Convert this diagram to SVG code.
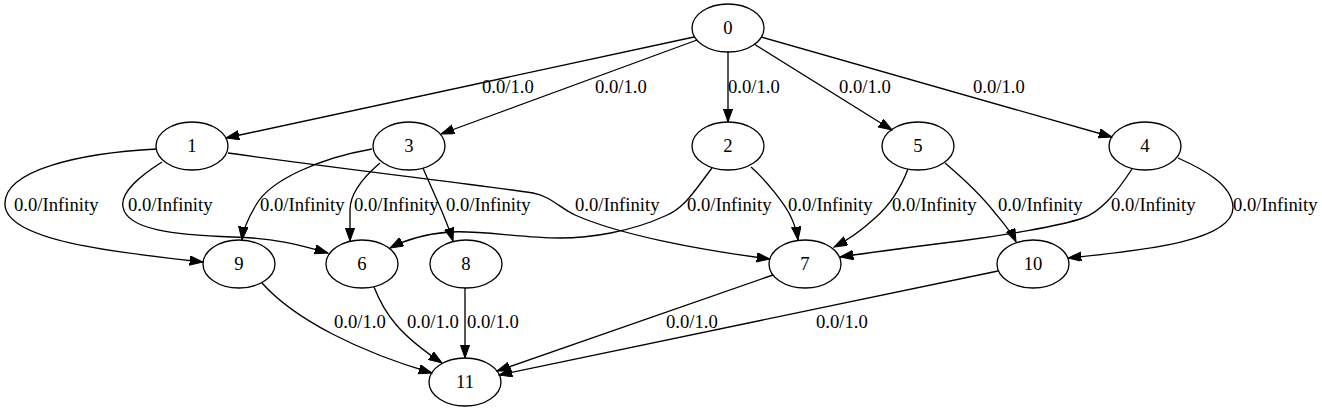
<svg xmlns="http://www.w3.org/2000/svg" width="1322" height="411" viewBox="0 0 1322 411">
<defs>
<style>
.n ellipse{fill:none;stroke:#000;stroke-width:1.33}
text{font-family:"Liberation Serif","Times New Roman",serif;font-size:18.67px;fill:#000}
.n text{text-anchor:middle}
.e path{fill:none;stroke:#000;stroke-width:1.33;marker-end:url(#ah)}
</style>
<marker id="ah" markerUnits="userSpaceOnUse" markerWidth="14" markerHeight="10" refX="13.3" refY="4.7" orient="auto" viewBox="0 0 14 10">
<path d="M0,0 L13.3,4.7 L0,9.4 z" fill="#000" stroke="#000" stroke-width="1"/>
</marker>
</defs>
<rect width="1322" height="411" fill="#fff"/>
<g id="connectors">
<g class="e" id="e0-1"><path d="M694,37 L226,138"/><text x="482" y="93">0.0/1.0</text></g>
<g class="e" id="e0-3"><path d="M697,40 L441,134"/><text x="595" y="93">0.0/1.0</text></g>
<g class="e" id="e0-2"><path d="M728,52 L728,122"/><text x="728" y="93">0.0/1.0</text></g>
<g class="e" id="e0-5"><path d="M754,44 L892,130"/><text x="839" y="93">0.0/1.0</text></g>
<g class="e" id="e0-4"><path d="M761,37 L1112,137"/><text x="973" y="93">0.0/1.0</text></g>
<g class="e" id="e1-9"><path d="M157,149 C80,153 3,170 5,205 C7,240 110,252 203,262"/><text x="14" y="211">0.0/Infinity</text></g>
<g class="e" id="e1-6"><path d="M162,162 C140,176 120,192 123,207 C127,230 175,235 233,237 C275,238 300,245 328,253"/><text x="128" y="211">0.0/Infinity</text></g>
<g class="e" id="e1-7"><path d="M228,153 C350,170 480,185 533,193 C550,196 560,208 575,215 C620,235 700,250 770,259"/><text x="575" y="211">0.0/Infinity</text></g>
<g class="e" id="e3-9"><path d="M372,149 C320,158 270,180 256,205 C247,220 243,230 242,240"/><text x="260" y="211">0.0/Infinity</text></g>
<g class="e" id="e3-6"><path d="M380,163 C360,180 350,195 350,210 L350,241"/><text x="354" y="211">0.0/Infinity</text></g>
<g class="e" id="e3-8"><path d="M423,168 C432,190 445,215 453,241"/><text x="446" y="211">0.0/Infinity</text></g>
<g class="e" id="e2-6"><path d="M712,168 C695,190 685,208 665,216 C630,232 590,238 560,238 C520,238 480,230 450,232 C425,234 405,240 390,248"/><text x="687" y="211">0.0/Infinity</text></g>
<g class="e" id="e2-7"><path d="M751,167 C768,182 785,205 790,215 C795,225 797,232 798,240"/><text x="788" y="211">0.0/Infinity</text></g>
<g class="e" id="e5-7"><path d="M908,169 C900,190 890,205 875,218 C862,230 848,240 834,247"/><text x="892" y="211">0.0/Infinity</text></g>
<g class="e" id="e5-10"><path d="M945,163 C965,180 985,200 995,213 C1005,225 1012,233 1016,242"/><text x="998" y="211">0.0/Infinity</text></g>
<g class="e" id="e4-7"><path d="M1132,169 C1115,195 1100,212 1083,218 C1060,226 1000,236 960,241 C920,246 880,251 840,257"/><text x="1111" y="211">0.0/Infinity</text></g>
<g class="e" id="e4-10"><path d="M1178,158 C1205,170 1232,185 1233,207 C1234,240 1150,250 1068,258"/><text x="1233" y="211">0.0/Infinity</text></g>
<g class="e" id="e9-11"><path d="M262,283 C295,320 360,352 432,373"/><text x="334" y="328">0.0/1.0</text></g>
<g class="e" id="e6-11"><path d="M374,287 C385,315 400,335 442,363"/><text x="407" y="328">0.0/1.0</text></g>
<g class="e" id="e8-11"><path d="M465,288 L465,358"/><text x="467" y="328">0.0/1.0</text></g>
<g class="e" id="e7-11"><path d="M773,275 L497,371"/><text x="666" y="328">0.0/1.0</text></g>
<g class="e" id="e10-11"><path d="M998,271 L499,375"/><text x="816" y="328">0.0/1.0</text></g>
</g>
<g class="n" id="n0"><ellipse cx="728" cy="28" rx="36" ry="24"/><text x="728" y="34">0</text></g>
<g class="n" id="n1"><ellipse cx="192" cy="146" rx="36" ry="24"/><text x="192" y="152">1</text></g>
<g class="n" id="n3"><ellipse cx="409" cy="146" rx="36" ry="24"/><text x="409" y="152">3</text></g>
<g class="n" id="n2"><ellipse cx="728" cy="146" rx="36" ry="24"/><text x="728" y="152">2</text></g>
<g class="n" id="n5"><ellipse cx="918" cy="146" rx="36" ry="24"/><text x="918" y="152">5</text></g>
<g class="n" id="n4"><ellipse cx="1145" cy="146" rx="36" ry="24"/><text x="1145" y="152">4</text></g>
<g class="n" id="n9"><ellipse cx="239" cy="264" rx="36" ry="24"/><text x="239" y="270">9</text></g>
<g class="n" id="n6"><ellipse cx="362" cy="264" rx="36" ry="24"/><text x="362" y="270">6</text></g>
<g class="n" id="n8"><ellipse cx="466" cy="264" rx="36" ry="24"/><text x="466" y="270">8</text></g>
<g class="n" id="n7"><ellipse cx="805" cy="264" rx="36" ry="24"/><text x="805" y="270">7</text></g>
<g class="n" id="n10"><ellipse cx="1033" cy="264" rx="36" ry="24"/><text x="1033" y="270">10</text></g>
<g class="n" id="n11"><ellipse cx="465" cy="382" rx="36" ry="24"/><text x="465" y="388">11</text></g>
</svg>
